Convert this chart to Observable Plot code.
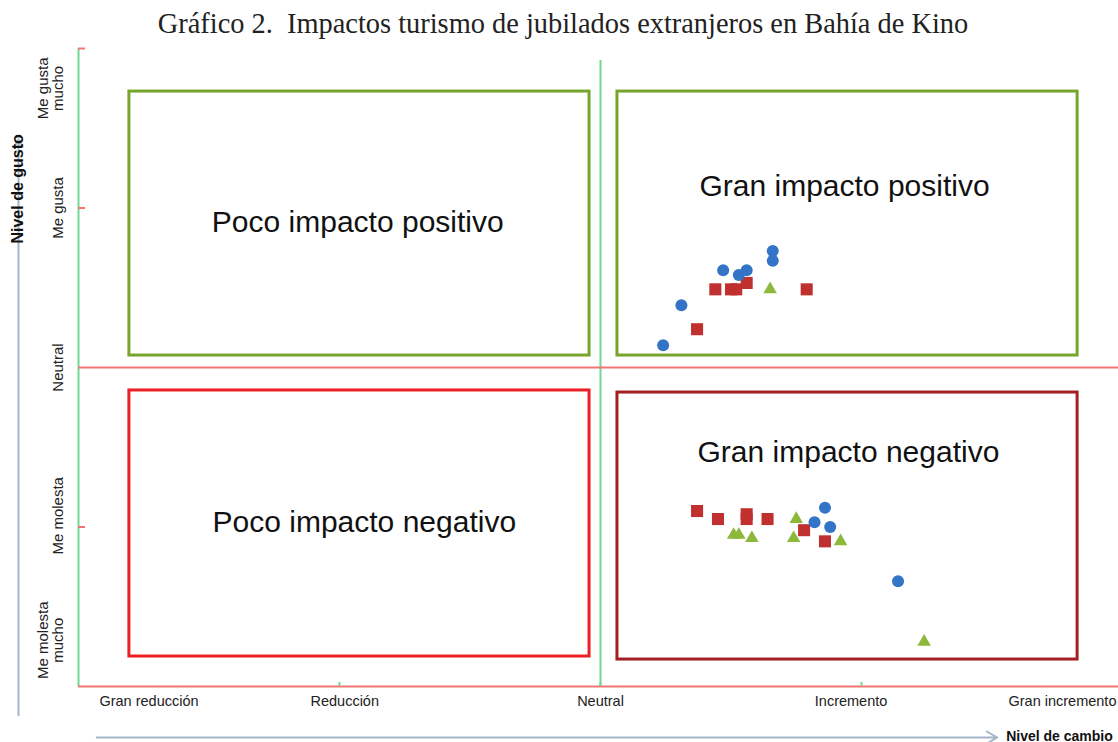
<!DOCTYPE html>
<html><head><meta charset="utf-8">
<script src="https://cdn.jsdelivr.net/npm/d3@7"></script>
<script src="https://cdn.jsdelivr.net/npm/@observablehq/plot@0.6"></script>
<style>
html,body{margin:0;padding:0;background:#fff;overflow:hidden;}
#title{height:40px;font-family:"Liberation Serif","DejaVu Serif",serif;font-size:28.4px;text-align:center;line-height:48px;color:#222;white-space:pre;padding-left:8px;}
</style></head><body>
<div id="title">Gráfico 2.  Impactos turismo de jubilados extranjeros en Bahía de Kino</div>
<div id="chart"></div>
<script>
// ---- data ----
const xTickLabels = ["Gran reducción", "Reducción", "Neutral", "Incremento", "Gran incremento"];
const xLabelAt = [-1.73, -0.98, 0, 0.96, 1.77];
const yTickLabels = ["Me gusta\nmucho", "Me gusta", "Neutral", "Me molesta", "Me molesta\nmucho"];
const yLabelAt = [1.75, 1, 0, -0.93, -1.71];

const quadrantNames = ["Poco impacto positivo", "Gran impacto positivo", "Poco impacto negativo", "Gran impacto negativo"];
const quadX1 = [-1.805, 0.065, -1.805, 0.065];
const quadX2 = [-0.042, 1.828, -0.042, 1.828];
const quadY1 = [0.075, 0.075, -1.812, -1.831];
const quadY2 = [1.73, 1.73, -0.144, -0.157];
const quadLabelX = [-0.93, 0.935, -0.905, 0.95];
const quadLabelY = [0.91, 1.135, -0.972, -0.533];

const circleX = [0.24, 0.31, 0.47, 0.53, 0.56, 0.66, 0.66, 0.86, 0.82, 0.88, 1.14];
const circleY = [0.14, 0.39, 0.61, 0.58, 0.61, 0.73, 0.67, -0.88, -0.97, -1.00, -1.34];
const squareX = [0.44, 0.50, 0.52, 0.56, 0.79, 0.37, 0.37, 0.45, 0.56, 0.56, 0.64, 0.78, 0.86];
const squareY = [0.49, 0.49, 0.49, 0.53, 0.49, 0.24, -0.90, -0.95, -0.92, -0.95, -0.95, -1.02, -1.09];
const triangleX = [0.65, 0.51, 0.53, 0.58, 0.75, 0.74, 0.92, 1.24];
const triangleY = [0.49, -1.05, -1.05, -1.07, -0.95, -1.07, -1.09, -1.72];

// ---- build tables ----
const quads = quadrantNames.map((n, i) => ({n, x1: quadX1[i], x2: quadX2[i], y1: quadY1[i], y2: quadY2[i], lx: quadLabelX[i], ly: quadLabelY[i]}));
const zip = (xs, ys) => xs.map((x, i) => ({x, y: ys[i]}));
const circles = zip(circleX, circleY);
const squares = zip(squareX, squareY);
const triangles = zip(triangleX, triangleY);
const xLab = xTickLabels.map((t, i) => ({t, x: xLabelAt[i]}));
const yLab = yTickLabels.map((t, i) => ({t, y: yLabelAt[i]}));

const quadColor = {"Poco impacto positivo": "#77a52b", "Gran impacto positivo": "#77a52b", "Poco impacto negativo": "#ec1f24", "Gran impacto negativo": "#a31f22"};

const W = 1118, H = 702, ML = 78, MT = 8, MB = 56;
const frameW = W - ML, frameH = H - MT - MB;
const green = "#72d88f", red = "#f27474", arrowC = "#a3b6ca";
const font = "'Liberation Sans', Arial, sans-serif";

const plot = Plot.plot({
  width: W, height: H,
  marginLeft: ML, marginRight: 0, marginTop: MT, marginBottom: MB,
  x: {domain: [-2, 2], range: [ML, ML + 4 * 261], axis: null},
  y: {domain: [-2, 2], axis: null},
  style: {fontFamily: font, background: "white", color: "#222", overflow: "visible"},
  marks: [
    ...quadrantNames.map(n => Plot.rect(quads.filter(d => d.n === n), {x1: "x1", x2: "x2", y1: "y1", y2: "y2", fill: "none", stroke: quadColor[n], strokeWidth: 3})),
    Plot.ruleX([0], {y1: -2, y2: 1.925, stroke: green, strokeWidth: 2}),
    Plot.ruleX([-2], {y1: -2, y2: 2, stroke: green, strokeWidth: 2}),
    Plot.ruleY([0, -2], {x1: -2, x2: 2, stroke: red, strokeWidth: 2}),
    Plot.tickY([2, 1, -1], {stroke: red, strokeWidth: 2, insetRight: frameW - 7}),
    Plot.tickX([-1, 0, 1], {stroke: green, strokeWidth: 2, insetTop: frameH - 4}),
    Plot.dot(squares, {x: "x", y: "y", symbol: "square", r: 6.8, fill: "#c0302f"}),
    Plot.dot(triangles, {x: "x", y: "y", symbol: "triangle", r: 5, fill: "#8cb83c"}),
    Plot.dot(circles, {x: "x", y: "y", symbol: "circle", r: 6, fill: "#3374c6"}),
    Plot.text(quads, {x: "lx", y: "ly", text: "n", fontSize: 30, fill: "#111"}),
    Plot.text(xLab, {x: "x", frameAnchor: "bottom", text: "t", dy: 19, fontSize: 14.5, fill: "#222"}),
    Plot.text(yLab, {y: "y", frameAnchor: "left", text: "t", textAnchor: "middle", rotate: -90, dx: -16, lineAnchor: "bottom", lineHeight: 1.0, fontSize: 15, fill: "#222"}),
    Plot.arrow([0], {x1: -2, x2: -2, y1: -2.18, y2: 1.43, dx: -60, stroke: arrowC, strokeWidth: 2, headLength: 6, bend: 0}),
    Plot.arrow([0], {x1: -1.93, x2: 1.52, y1: -2, y2: -2, dy: 51, stroke: arrowC, strokeWidth: 2, headLength: 9, bend: 0}),
    Plot.text(["Nivel de cambio"], {x: 1.52, y: -2, dx: 9, dy: 50, textAnchor: "start", fontWeight: "bold", fontSize: 14, fill: "#111"}),
    Plot.text(["Nivel de gusto"], {x: -2, y: 1.12, dx: -61, rotate: -90, fontWeight: "bold", fontSize: 16, fill: "#111"})
  ]
});
document.getElementById("chart").appendChild(plot);
</script>
</body></html>
